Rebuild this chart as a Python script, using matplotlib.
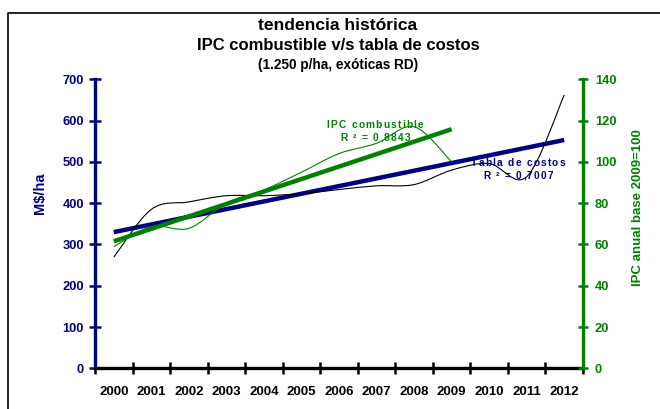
import numpy as np
import matplotlib
matplotlib.use("Agg")
import matplotlib.pyplot as plt
from matplotlib.path import Path
from matplotlib.patches import PathPatch
from matplotlib.lines import Line2D
from matplotlib.transforms import IdentityTransform

# ---------------- data ----------------
years = ["2000", "2001", "2002", "2003", "2004", "2005", "2006",
         "2007", "2008", "2009", "2010", "2011", "2012"]
tabla_costos = [269, 385, 403, 418, 418, 423, 433, 442, 445, 480, 496, 464, 662]
ipc_combustible = [58.9, 68.6, 67.8, 80.0, 86.4, 95.0, 104.0, 109.0, 117.0, 100.0]
left_ticks = [0, 100, 200, 300, 400, 500, 600, 700]
right_ticks = [0, 20, 40, 60, 80, 100, 120, 140]

title1 = "tendencia histórica"
title2 = "IPC combustible v/s tabla de costos"
title3 = "(1.250 p/ha, exóticas RD)"
ylabel_left = "M$/ha"
ylabel_right = "IPC anual base 2009=100"
lbl_ipc = ["IPC combustible", "R ² = 0,8843"]
lbl_tabla = ["Tabla de costos", "R ² = 0,7007"]

NAVY = "#000080"
GREEN = "#008000"
FONT = "Liberation Sans"

W, H, DPI = 660, 409, 100
plt.rcParams['font.family'] = [FONT, 'DejaVu Sans']

fig = plt.figure(figsize=(W / DPI, H / DPI), dpi=DPI)
fig.patch.set_facecolor("white")

# axes placement in pixels
L, R, B, T = 95, 583, 368.3, 79.3
ax = fig.add_axes([L / W, 1 - B / H, (R - L) / W, (B - T) / H])
ax2 = ax.twinx()


def smooth_path(xs, ys):
    """Excel-style smoothed line: cubic Bezier through the data points."""
    pts = np.column_stack([xs, ys]).astype(float)
    n = len(pts)
    verts = [pts[0]]
    codes = [Path.MOVETO]
    for i in range(n - 1):
        p0 = pts[i - 1] if i > 0 else pts[i]
        p1 = pts[i]
        p2 = pts[i + 1]
        p3 = pts[i + 2] if i + 2 < n else pts[i + 1]
        c1 = p1 + (p2 - p0) / 6.0
        c2 = p2 - (p3 - p1) / 6.0
        verts += [c1, c2, p2]
        codes += [Path.CURVE4] * 3
    return Path(verts, codes)


x_all = np.arange(len(years))
x_ipc = np.arange(len(ipc_combustible))

# tabla de costos (left axis)
ax.add_patch(PathPatch(smooth_path(x_all, tabla_costos), fill=False,
                       edgecolor="black", lw=0.8, zorder=4))
k, b = np.polyfit(x_all, tabla_costos, 1)
ax.plot([x_all[0], x_all[-1]], [k * x_all[0] + b, k * x_all[-1] + b],
        color=NAVY, lw=3.2, solid_capstyle="butt", zorder=3)

# IPC combustible (right axis)
ax2.add_patch(PathPatch(smooth_path(x_ipc, ipc_combustible), fill=False,
                        edgecolor=GREEN, lw=0.8, zorder=4))
k2, b2 = np.polyfit(x_ipc, ipc_combustible, 1)
ax2.plot([x_ipc[0], x_ipc[-1]], [k2 * x_ipc[0] + b2, k2 * x_ipc[-1] + b2],
         color=GREEN, lw=3.2, solid_capstyle="butt", zorder=3)

# axes limits / spines
for a in (ax, ax2):
    a.set_xlim(-0.5, len(years) - 0.5)
    a.patch.set_visible(False)
    for s in a.spines.values():
        s.set_visible(False)
ax.set_ylim(0, 700)
ax2.set_ylim(0, 140)

ax.spines['left'].set_visible(True)
ax.spines['left'].set_color(NAVY)
ax.spines['left'].set_linewidth(2.4)
ax.spines['bottom'].set_visible(True)
ax.spines['bottom'].set_color("black")
ax.spines['bottom'].set_linewidth(2.4)
ax.spines['bottom'].set_zorder(5)
ax2.spines['right'].set_visible(True)
ax2.spines['right'].set_color(GREEN)
ax2.spines['right'].set_linewidth(2.4)

# ticks
ax.set_yticks(left_ticks)
ax.set_yticklabels([str(v) for v in left_ticks])
ax.tick_params(axis='y', direction='inout', length=8, width=1.8, color=NAVY,
               labelcolor=NAVY, labelsize=9.3, pad=4)
for t in ax.get_yticklabels():
    t.set_fontweight('bold')

ax2.set_yticks(right_ticks)
ax2.set_yticklabels([str(v) for v in right_ticks])
ax2.tick_params(axis='y', direction='inout', length=7, width=1.8, color=GREEN,
                labelcolor=GREEN, labelsize=9.3, pad=5)
for t in ax2.get_yticklabels():
    t.set_fontweight('bold')

ax.set_xticks(np.arange(len(years) + 1) - 0.5)
ax.set_xticklabels([])
ax.set_xticks(x_all, minor=True)
ax.set_xticklabels(years, minor=True)
ax.tick_params(axis='x', which='major', direction='inout', length=8, width=1.8,
               color="black")
ax.tick_params(axis='x', which='minor', length=0, labelsize=9.5, pad=13,
               labelcolor="black")
for t in ax.get_xticklabels(minor=True):
    t.set_fontweight('bold')
ax2.tick_params(axis='x', which='both', length=0)

# titles (figure pixel positions)
def ftext(x, y, s, **kw):
    return fig.text(x / W, 1 - y / H, s, ha='center', va='center', **kw)

ftext(338, 25, title1, fontsize=12.6, fontweight='bold', color='black')
ftext(338, 46, title2, fontsize=12, fontweight='bold', color='black')
ftext(338, 65, title3, fontsize=9.8, fontweight='bold', color='black')

ftext(40, 193, ylabel_left, fontsize=10.5, fontweight='bold', color=NAVY,
      rotation=90)
ftext(638, 208, ylabel_right, fontsize=9.5, fontweight='bold', color=GREEN,
      rotation=90)

# letter-spaced annotation text
fig.canvas.draw()
renderer = fig.canvas.get_renderer()


def spaced(xc, yc, s, color, size, gap):
    widths = []
    for ch in s:
        if ch == " ":
            tmp = fig.text(0, 0, "x", fontsize=size, fontweight='bold')
            w = tmp.get_window_extent(renderer).width * 0.55
        else:
            tmp = fig.text(0, 0, ch, fontsize=size, fontweight='bold')
            w = tmp.get_window_extent(renderer).width
        tmp.remove()
        widths.append(w)
    total = sum(widths) + gap * (len(s) - 1)
    x = xc - total / 2
    for ch, w in zip(s, widths):
        if ch != " ":
            fig.text(x, H - yc, ch, fontsize=size, fontweight='bold',
                     color=color, ha='left', va='center',
                     transform=IdentityTransform(), zorder=10)
        x += w + gap


spaced(375, 125.5, lbl_ipc[0], GREEN, 7.3, 1.2)
spaced(375, 138, lbl_ipc[1], GREEN, 7.3, 1.2)
spaced(518, 163, lbl_tabla[0], NAVY, 7.3, 1.2)
spaced(518, 176, lbl_tabla[1], NAVY, 7.3, 1.2)

# outer frame (partially visible)
fx0, fy0 = 8 / W, 1 - 13 / H
fig.add_artist(Line2D([fx0, fx0, 1.0], [0.0, fy0, fy0], color='black',
                      lw=1.2, transform=fig.transFigure))

fig.savefig("out.png", dpi=DPI, facecolor="white")
